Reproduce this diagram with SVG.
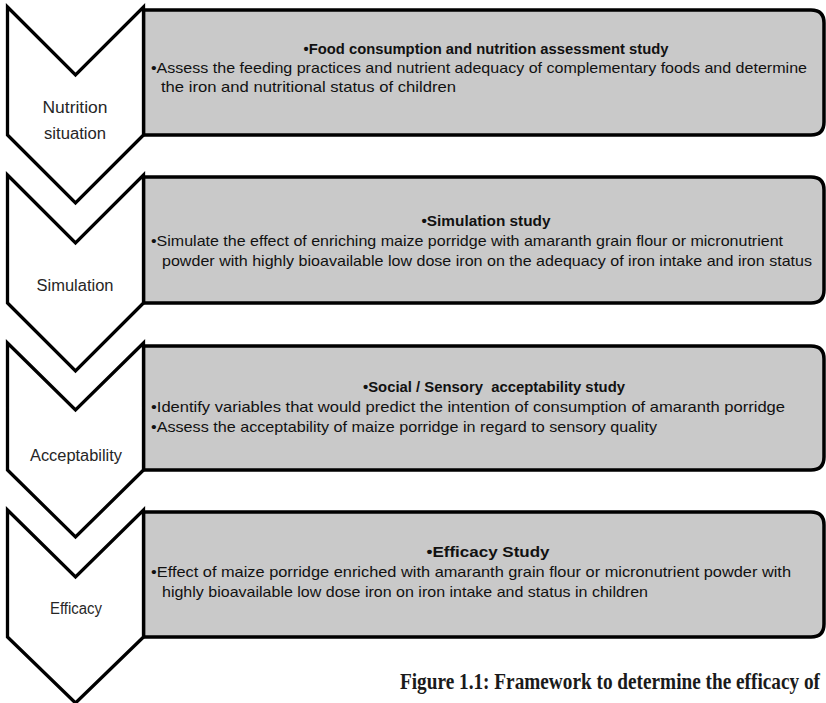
<svg xmlns="http://www.w3.org/2000/svg" width="826" height="703" viewBox="0 0 826 703">
<style>
.chev{fill:#ffffff;stroke:#000;stroke-width:3.3;stroke-linejoin:miter}
.box{fill:#c9c9c9;stroke:#000;stroke-width:3.5}
.lbl{font-family:"Liberation Sans",Arial,sans-serif;font-size:16px;fill:#262626;text-anchor:middle}
.ttl{font-family:"Liberation Sans",Arial,sans-serif;font-size:15px;font-weight:bold;fill:#111;text-anchor:middle}
.txt{font-family:"Liberation Sans",Arial,sans-serif;font-size:15px;fill:#111}
.cap{font-family:"Liberation Serif","Times New Roman",serif;font-size:23px;font-weight:bold;fill:#1a1a1a}
</style>
<rect width="826" height="703" fill="#ffffff"/>
<g id="connectors"/>
<g id="study1">
<path class="box" d="M143.5,10 H811 Q824,10 824,23 V122 Q824,135 811,135 H143.5 Z"/>
<text class="ttl" x="486" y="54" textLength="365" lengthAdjust="spacingAndGlyphs">•Food consumption and nutrition assessment study</text>
<text class="txt" x="151" y="73" textLength="656" lengthAdjust="spacingAndGlyphs">•Assess the feeding practices and nutrient adequacy of complementary foods and determine</text>
<text class="txt" x="161" y="92" textLength="295" lengthAdjust="spacingAndGlyphs">the iron and nutritional status of children</text>
</g>
<g id="stage1">
<path class="chev" d="M7.5,7 L75.5,75 L143.5,7 L143.5,135 L75.5,203 L7.5,135 Z"/>
<text class="lbl" x="75" y="113" textLength="65" lengthAdjust="spacingAndGlyphs">Nutrition</text>
<text class="lbl" x="75" y="139" textLength="62" lengthAdjust="spacingAndGlyphs">situation</text>
</g>
<g id="study2">
<path class="box" d="M143.5,177 H811 Q824,177 824,190 V290 Q824,303 811,303 H143.5 Z"/>
<text class="ttl" x="486" y="226" textLength="129" lengthAdjust="spacingAndGlyphs">•Simulation study</text>
<text class="txt" x="151" y="246" textLength="632" lengthAdjust="spacingAndGlyphs">•Simulate the effect of enriching maize porridge with amaranth grain flour or micronutrient</text>
<text class="txt" x="162" y="266" textLength="650" lengthAdjust="spacingAndGlyphs">powder with highly bioavailable low dose iron on the adequacy of iron intake and iron status</text>
</g>
<g id="stage2">
<path class="chev" d="M7.5,175 L75.5,243 L143.5,175 L143.5,303 L75.5,371 L7.5,303 Z"/>
<text class="lbl" x="75" y="291" textLength="77" lengthAdjust="spacingAndGlyphs">Simulation</text>
</g>
<g id="study3">
<path class="box" d="M143.5,346 H811 Q824,346 824,359 V457 Q824,470 811,470 H143.5 Z"/>
<text class="ttl" x="494" y="392" textLength="262" lengthAdjust="spacingAndGlyphs" xml:space="preserve">•Social / Sensory  acceptability study</text>
<text class="txt" x="151" y="412" textLength="634" lengthAdjust="spacingAndGlyphs">•Identify variables that would predict the intention of consumption of amaranth porridge</text>
<text class="txt" x="151" y="432" textLength="506" lengthAdjust="spacingAndGlyphs">•Assess the acceptability of maize porridge in regard to sensory quality</text>
</g>
<g id="stage3">
<path class="chev" d="M7.5,343 L75.5,410 L143.5,343 L143.5,470 L75.5,537 L7.5,470 Z"/>
<text class="lbl" x="76" y="461" textLength="92" lengthAdjust="spacingAndGlyphs">Acceptability</text>
</g>
<g id="study4">
<path class="box" d="M143.5,512 H811 Q824,512 824,525 V624 Q824,637 811,637 H143.5 Z"/>
<text class="ttl" x="488" y="557" textLength="123" lengthAdjust="spacingAndGlyphs">•Efficacy Study</text>
<text class="txt" x="151" y="577" textLength="640" lengthAdjust="spacingAndGlyphs">•Effect of maize porridge enriched with amaranth grain flour or micronutrient powder with</text>
<text class="txt" x="162" y="597" textLength="486" lengthAdjust="spacingAndGlyphs">highly bioavailable low dose iron on iron intake and status in children</text>
</g>
<g id="stage4">
<path class="chev" d="M7.5,510 L75.5,577 L143.5,510 L143.5,637 L75.5,703 L7.5,637 Z"/>
<text class="lbl" x="76" y="614" textLength="52" lengthAdjust="spacingAndGlyphs">Efficacy</text>
</g>
<g id="caption">
<text class="cap" transform="translate(400,689) scale(0.84,1)" x="0" y="0" textLength="500" lengthAdjust="spacingAndGlyphs">Figure 1.1: Framework to determine the efficacy of</text>
</g>
</svg>
